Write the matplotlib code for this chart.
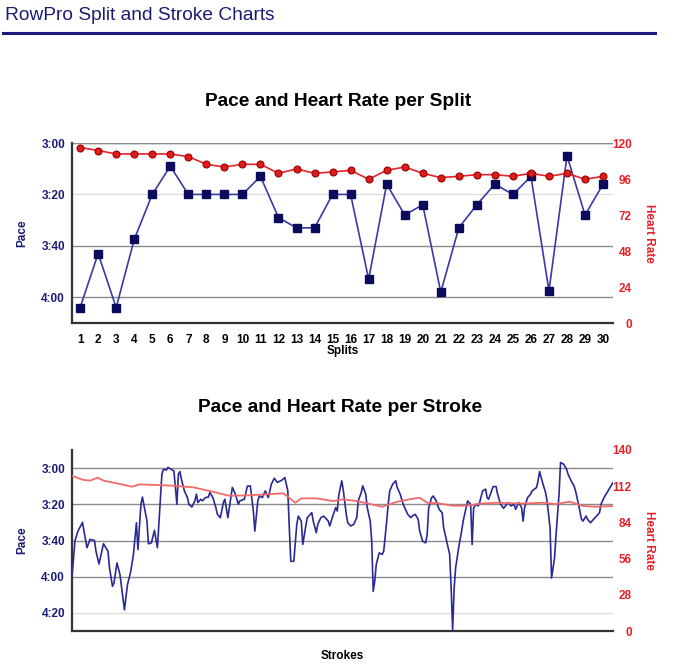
import numpy as np
import matplotlib
matplotlib.use("Agg")
import matplotlib.pyplot as plt
from matplotlib.lines import Line2D

plt.rcParams['font.family'] = ['Liberation Sans', 'DejaVu Sans']

NAVY = '#1c1c72'
PACE_LINE = '#3a3aa6'
PACE_MARK = '#0b0b5c'
HR_RED = '#e8202a'
HR_LINE_BOTTOM = '#f06a6a'

# ---- split data (pace in seconds per 500m, heart rate in bpm)
splits = list(range(1, 31))
split_pace = [244, 223, 244, 217.5, 200, 189, 200, 200, 200, 200,
              193, 209, 213, 213, 200, 200, 233, 196, 208, 204,
              238, 213, 204, 196, 200, 193, 237.5, 185, 208, 196]
split_hr = [117, 115, 112.7, 112.7, 112.7, 112.7, 110.9, 105.8, 104, 105.8,
            105.8, 99.8, 102.7, 99.8, 100.7, 101.8, 95.8, 101.8, 104, 99.8,
            96.9, 97.8, 98.9, 98.9, 97.8, 99.8, 97.8, 99.8, 95.8, 97.8]

# ---- stroke data
stroke_n = [1, 3, 5, 8, 9, 11, 13, 16, 17, 19, 22, 25, 26, 28, 29, 31, 33, 36, 38, 40,
            42, 44, 45, 47, 48, 51, 52, 54, 56, 58, 61, 62, 64, 65, 67, 69, 71, 72, 73, 74,
            76, 78, 79, 81, 83, 84, 85, 87, 88, 90, 92, 93, 95, 97, 98, 100, 102, 103, 105, 107,
            108, 110, 112, 113, 116, 118, 120, 122, 123, 125, 126, 128, 130, 132, 134, 136, 138, 141, 143, 145,
            146, 147, 149, 151, 152, 154, 155, 157, 158, 161, 162, 164, 165, 167, 169, 172, 173, 175, 177, 178,
            179, 181, 182, 184, 185, 187, 189, 191, 192, 194, 195, 197, 198, 200, 201, 202, 203, 204, 206, 208,
            209, 211, 212, 213, 215, 217, 218, 220, 222, 223, 225, 227, 228, 230, 232, 233, 235, 237, 238, 239,
            241, 242, 244, 246, 248, 249, 251, 253, 254, 255, 256, 257, 259, 261, 262, 264, 265, 267, 268, 269,
            271, 272, 273, 275, 277, 278, 279, 281, 282, 284, 285, 287, 289, 291, 292, 294, 296, 297, 299, 301,
            302, 303, 305, 307, 308, 311, 312, 313, 315, 317, 318, 320, 321, 323, 324, 326, 327, 329, 331, 332,
            334, 336, 337, 339, 341, 342, 344, 345, 347, 349, 351, 353, 354, 356, 358, 360, 362]
stroke_pace = [240, 220, 214.8, 210, 214.8, 224, 219.4, 220, 225.9, 233, 221.8, 225.9, 235, 245.3, 243.5, 232.4, 238.8, 258.3, 244.4, 237.9,
               227.7, 210.2, 225, 200, 196, 209.2, 221.8, 221.3, 214.4, 224, 183.3, 180.6, 181.1, 179.6, 180.6, 181.5, 200, 183.3, 181.9, 186.1,
               192.6, 196.3, 200, 201.5, 198.1, 194.4, 199, 197.2, 198.1, 196.3, 196, 193.5, 196.3, 201.8, 205.5, 207.4, 199, 197.2, 207.4, 196.3,
               190.7, 194.4, 200, 198.1, 197.2, 190, 189.8, 203.7, 214.8, 198.1, 195.4, 196.3, 192.6, 196.3, 188.9, 185.6, 187.9, 186.7, 185.2, 192.6,
               213, 231.5, 231.5, 211.1, 206.5, 209.3, 222.2, 212, 207.4, 204.6, 209.3, 215.7, 211.1, 207.4, 206.5, 209.3, 212, 206.5, 201.8, 203.7,
               195, 187, 192, 205.5, 210.2, 212, 211.1, 207.4, 198.1, 193.5, 189.8, 194.4, 201.8, 209.3, 220.4, 248.1, 242.6, 233.3, 226.8, 227.7,
               225.9, 209.3, 200, 192.6, 188.9, 187, 190.7, 194.4, 200, 201.8, 205.5, 207.4, 206.5, 205.5, 208.3, 214.8, 220.4, 221.3, 216.7, 202,
               196.3, 195.4, 198.1, 202.8, 204.6, 213, 220.4, 227.7, 246.3, 269.4, 246.3, 235.1, 224, 214.8, 209.3, 201.8, 198.1, 200, 222.2, 201.8,
               200, 200.9, 199, 192.6, 191.6, 196.3, 197.2, 192.6, 190.2, 190.2, 194.4, 200, 202.2, 200, 199, 200.9, 200, 202.8, 199, 201.8,
               209.3, 201.8, 196.3, 194.4, 192.6, 190.7, 187, 181.9, 188, 193.5, 198.1, 213, 240.7, 229.6, 216.7, 194.4, 176.9, 177.8, 180.6, 183.3,
               187, 189.8, 192.6, 200, 208.3, 209.3, 206.5, 208.3, 210.2, 208.3, 206.5, 204.6, 200, 196.3, 193.5, 190.7, 188]
hr_stroke_n = [1, 8, 13, 18, 22, 31, 41, 46, 58, 68, 82, 95, 106, 118, 131, 142, 150, 154, 164, 175,
               182, 191, 200, 208, 218, 226, 233, 238, 246, 255, 264, 275, 284, 298, 306, 315, 324, 333, 342, 351, 362]
hr_stroke = [120, 117, 116.3, 118.6, 116.3, 114.2, 111.6, 113.4, 112.9, 112.4, 111.1, 107.7, 104.6, 104.9, 105.7, 106.5, 99.2, 102.6, 102.6, 100.5,
             101.8, 100.5, 98.2, 96.1, 100, 101.8, 103.1, 99.2, 98.7, 96.9, 96.9, 98.7, 99.2, 98.7, 98.7, 99.2, 98.2, 100, 96.7, 96.1, 96.7]

pace_ticks_top = [180, 200, 220, 240]
pace_ticks_bottom = [180, 200, 220, 240, 260]
hr_ticks_top = [0, 24, 48, 72, 96, 120]
hr_ticks_bottom = [0, 28, 56, 84, 112, 140]


def fmt_pace(sec):
    return "%d:%02d" % (int(sec) // 60, int(sec) % 60)


W, H = 676, 670
fig = plt.figure(figsize=(W / 100, H / 100), dpi=100)

# header
fig.text(5 / W, 1 - 15 / H, "RowPro Split and Stroke Charts", color=NAVY,
         fontsize=13.8, va='center', ha='left')
fig.add_artist(Line2D([3 / W, 655 / W], [1 - 33 / H, 1 - 33 / H], color='#1a1a80', lw=2.2))

bold = dict(fontweight='bold', fontsize=8.5)


def style_axes(ax, ax2, pace_ticks, hr_ticks, ylim, hrmax, light):
    ax.set_ylim(*ylim)
    ax.set_yticks(pace_ticks)
    ax.set_yticklabels([fmt_pace(t) for t in pace_ticks], color=NAVY, **bold)
    ax.tick_params(axis='y', length=0, pad=5)
    ax.grid(axis='y', color='#8a8a8a', lw=1.0)
    for t, gl in zip(pace_ticks, ax.get_ygridlines()):
        if t in light:
            gl.set_color('#dcdcdc')
    for s in ['top', 'right']:
        ax.spines[s].set_visible(False)
    for s in ['left', 'bottom']:
        ax.spines[s].set_color('#333333')
        ax.spines[s].set_linewidth(1.6)
    ax.set_ylabel("Pace", color=NAVY, **bold)
    ax.yaxis.set_label_coords(-0.081, 0.5)

    ax2.set_ylim(0, hrmax)
    ax2.set_yticks(hr_ticks)
    ax2.set_yticklabels([str(t) for t in hr_ticks], color=HR_RED, ha='right', **bold)
    ax2.tick_params(axis='y', length=0, pad=13.5)
    for s in ax2.spines.values():
        s.set_visible(False)
    ax2.set_ylabel("Heart Rate", color=HR_RED, rotation=270, va='center', **bold)
    ax2.yaxis.set_label_coords(1.066, 0.5)


# ---- split chart
ax1 = fig.add_axes([72 / W, 1 - 323 / H, 541 / W, 180 / H])
ax1b = ax1.twinx()
ax1.plot(splits, split_pace, color=PACE_LINE, lw=1.2, marker='s', ms=5.5,
         mfc=PACE_MARK, mec=PACE_MARK, zorder=3)
ax1b.plot(splits, split_hr, color=HR_RED, lw=1.2, marker='o', ms=5,
          mfc='#dd1c1c', mec='#9a0000', mew=0.8)
ax1.set_xlim(0.55, 30.55)
ax1.set_xticks(splits)
ax1.set_xticklabels([str(s) for s in splits], color='black', **bold)
ax1.tick_params(axis='x', length=0, pad=8)
ax1.set_xlabel("Splits", color='black', labelpad=-1, **bold)
style_axes(ax1, ax1b, pace_ticks_top, hr_ticks_top, (250, 180), 120, [200])
ax1.axhline(180, color='#8a8a8a', lw=1.0)
fig.text(338 / W, 1 - 101 / H, "Pace and Heart Rate per Split", ha='center', va='center',
         fontsize=13.8, fontweight='bold')

# ---- stroke chart
ax2 = fig.add_axes([72 / W, 1 - 631 / H, 541 / W, 181 / H])
ax2b = ax2.twinx()
ax2.plot(stroke_n, stroke_pace, color='#2a2a96', lw=1.2, zorder=3)
ax2b.plot(hr_stroke_n, hr_stroke, color=HR_LINE_BOTTOM, lw=1.3)
ax2.set_xlim(1, 362)
ax2.set_xticks([])
ax2.set_xlabel("Strokes", color='black', labelpad=14, **bold)
style_axes(ax2, ax2b, pace_ticks_bottom, hr_ticks_bottom, (270, 170), 140, [260])
fig.text(340 / W, 1 - 408 / H, "Pace and Heart Rate per Stroke", ha='center', va='center',
         fontsize=13.8, fontweight='bold')

fig.savefig("out.png", dpi=100)
